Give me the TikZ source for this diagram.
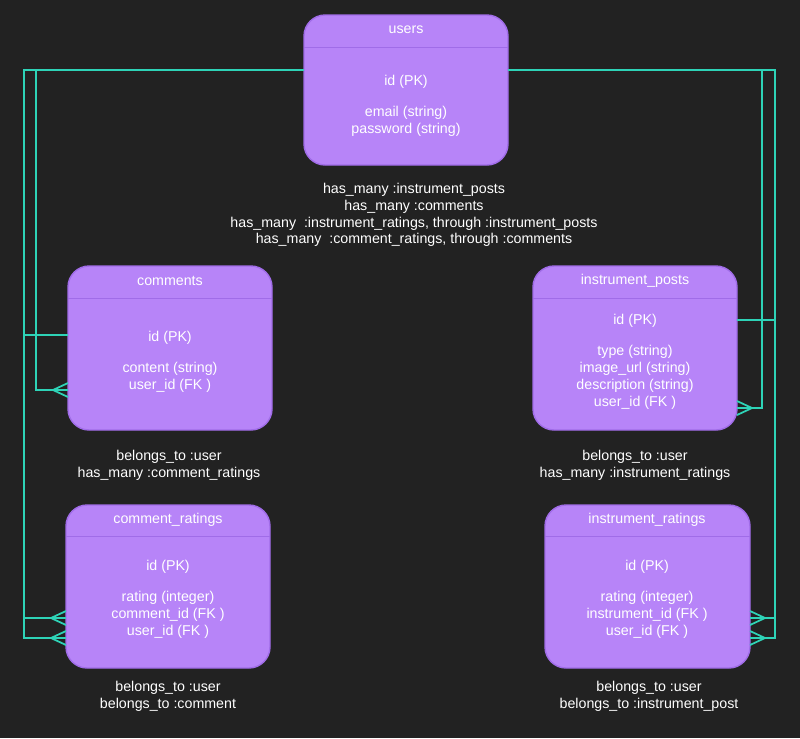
\documentclass[tikz,border=0pt]{standalone}
\usepackage{fontspec}
\setmainfont{Liberation Sans}
\usetikzlibrary{positioning}
\definecolor{bg}{HTML}{222222}
\definecolor{tbl}{HTML}{B784F8}
\definecolor{tbledge}{HTML}{A06CE8}
\definecolor{link}{HTML}{2ED3B7}
\tikzset{
    tbl/.style={draw=tbledge, fill=tbl, rounded corners=12, line width=0.8pt},
    lbl/.style={text=white, font=\fontsize{8.1}{9.6}\selectfont, align=center, inner sep=0},
    rel/.style={draw=link, line width=1pt},
    crow/.pic={\draw[rel] (0,-7) -- (-15,0) -- (0,7);}
}
\begin{document}
\begin{tikzpicture}[x=0.02cm,y=-0.02cm]
    \fill[bg] (0,0) rectangle (800,738);

    % tables
    \draw[tbl] (304,15) rectangle (508,165);
    \draw[tbledge] (304,47) -- (508,47);
    \node[lbl] (users) at (406,30) {users};
    \node[lbl] at (406,106) {id (PK)\\[8pt]email (string)\\password (string)};

    \draw[tbl] (68,266) rectangle (272,430);
    \draw[tbledge] (68,298) -- (272,298);
    \node[lbl] (comments) at (170,281) {comments};
    \node[lbl] at (170,362) {id (PK)\\[8pt]content (string)\\user\_id (FK )};

    \draw[tbl] (533,266) rectangle (737,430);
    \draw[tbledge] (533,298) -- (737,298);
    \node[lbl] (posts) at (635,281) {instrument\_posts};
    \node[lbl] at (635,362) {id (PK)\\[8pt]type (string)\\image\_url (string)\\description (string)\\user\_id (FK )};

    \draw[tbl] (66,505) rectangle (270,668);
    \draw[tbledge] (66,536) -- (270,536);
    \node[lbl] (cratings) at (168,520) {comment\_ratings};
    \node[lbl] at (168,599) {id (PK)\\[8pt]rating (integer)\\comment\_id (FK )\\user\_id (FK )};

    \draw[tbl] (545,505) rectangle (750,668);
    \draw[tbledge] (545,536) -- (750,536);
    \node[lbl] (iratings) at (647,520) {instrument\_ratings};
    \node[lbl] at (647,599) {id (PK)\\[8pt]rating (integer)\\instrument\_id (FK )\\user\_id (FK )};

    % associations
    \node[lbl] at (414,215) {has\_many :instrument\_posts\\has\_many :comments\\has\_many \ :instrument\_ratings, through :instrument\_posts\\has\_many \ :comment\_ratings, through :comments};
    \node[lbl] at (169,465) {belongs\_to :user\\has\_many :comment\_ratings};
    \node[lbl] at (635,465) {belongs\_to :user\\has\_many :instrument\_ratings};
    \node[lbl] at (168,696) {belongs\_to :user\\belongs\_to :comment};
    \node[lbl] at (649,696) {belongs\_to :user\\belongs\_to :instrument\_post};

    % connectors
    \coordinate (uL) at (304,70);
    \coordinate (uR) at (508,70);
    \draw[rel] (uL) -- (36,70) -- (36,390) -- (68,390);
    \draw[rel] (uL) -- (24,70) -- (24,638) -- (66,638);
    \draw[rel] (68,335) -- (24,335) -- (24,618) -- (66,618);
    \draw[rel] (uR) -- (762,70) -- (762,408) -- (737,408);
    \draw[rel] (uR) -- (775,70) -- (775,638) -- (750,638);
    \draw[rel] (737,320) -- (775,320) -- (775,618) -- (750,618);
    % crow's feet
    \pic at (68,390) {crow};
    \pic at (66,618) {crow};
    \pic at (66,638) {crow};
    \pic[rotate=180] at (737,408) {crow};
    \pic[rotate=180] at (750,618) {crow};
    \pic[rotate=180] at (750,638) {crow};
\end{tikzpicture}
\end{document}
